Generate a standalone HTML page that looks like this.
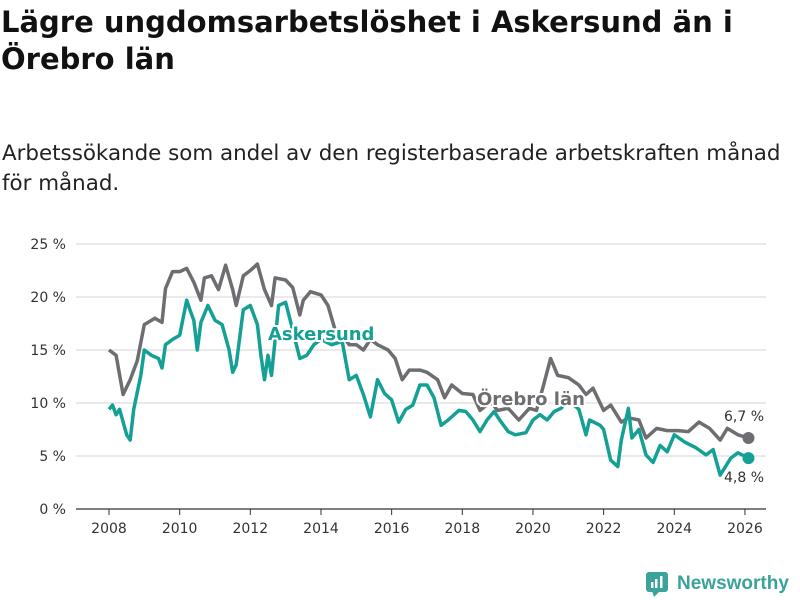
<!DOCTYPE html>
<html><head><meta charset="utf-8"><style>
body{margin:0;width:800px;height:600px;background:#fff;font-family:"DejaVu Sans","Liberation Sans",sans-serif;overflow:hidden;position:relative}
h1{position:absolute;left:1px;top:4px;margin:0;font-size:29px;line-height:37px;font-weight:bold;color:#111;width:800px;white-space:nowrap}
.sub{position:absolute;left:2px;top:139px;font-size:21.4px;line-height:30px;color:#222;width:800px;white-space:nowrap}
svg{position:absolute;left:0;top:0}
</style></head><body>
<h1>Lägre ungdomsarbetslöshet i Askersund än i<br>Örebro län</h1>
<div class="sub">Arbetssökande som andel av den registerbaserade arbetskraften månad<br>för månad.</div>
<svg width="800" height="600">
<g id="grid"></g><g id="lines"></g><g id="labels"></g>
<g>
<rect x="646" y="572" width="22" height="20" rx="3" fill="#3aa39a"/>
<polygon points="652,591 660,591 654,597" fill="#3aa39a"/>
<rect x="651" y="582" width="2.5" height="6" fill="#fff"/><rect x="655" y="579" width="2.5" height="9" fill="#fff"/><rect x="660" y="576" width="2.5" height="12" fill="#fff"/>
<text x="677" y="589" font-size="19" font-family="Liberation Sans, sans-serif" font-weight="bold" fill="#3aa39a">Newsworthy</text>
</g>
</svg>
<script>
const orebroT=[2008.0,2008.2,2008.4,2008.6,2008.8,2009.0,2009.3,2009.5,2009.6,2009.8,2010.0,2010.2,2010.4,2010.6,2010.7,2010.9,2011.1,2011.3,2011.5,2011.6,2011.8,2012.0,2012.2,2012.4,2012.6,2012.7,2013.0,2013.2,2013.4,2013.5,2013.7,2014.0,2014.2,2014.4,2014.6,2014.8,2015.0,2015.2,2015.4,2015.6,2015.9,2016.1,2016.3,2016.5,2016.8,2017.0,2017.3,2017.5,2017.7,2018.0,2018.3,2018.5,2018.8,2019.0,2019.3,2019.6,2019.9,2020.1,2020.3,2020.5,2020.7,2021.0,2021.3,2021.5,2021.7,2022.0,2022.2,2022.5,2022.7,2023.0,2023.2,2023.5,2023.8,2024.1,2024.4,2024.7,2025.0,2025.3,2025.5,2025.8,2026.1];
const orebroV=[15.0,14.5,10.8,12.2,14,17.4,18,17.6,20.8,22.4,22.4,22.7,21.4,19.7,21.8,22,20.7,23,20.7,19.2,22,22.5,23.1,20.7,19.2,21.8,21.6,20.9,18.3,19.7,20.5,20.2,19.2,16.9,16.4,15.5,15.5,15,16,15.5,15,14.2,12.2,13.1,13.1,12.9,12.2,10.5,11.7,10.9,10.8,9.3,10.1,9.3,9.5,8.4,9.5,9.3,11.7,14.2,12.6,12.4,11.7,10.8,11.4,9.3,9.8,8.2,8.6,8.4,6.7,7.6,7.4,7.4,7.3,8.2,7.6,6.5,7.6,7.0,6.7];
const askT=[2008.0,2008.1,2008.2,2008.3,2008.5,2008.6,2008.7,2008.9,2009.0,2009.2,2009.4,2009.5,2009.6,2009.8,2010.0,2010.2,2010.3,2010.4,2010.5,2010.6,2010.8,2011.0,2011.2,2011.4,2011.5,2011.6,2011.8,2012.0,2012.2,2012.3,2012.4,2012.5,2012.6,2012.8,2013.0,2013.2,2013.4,2013.6,2013.8,2014.0,2014.3,2014.6,2014.8,2015.0,2015.2,2015.4,2015.6,2015.8,2016.0,2016.2,2016.4,2016.6,2016.8,2017.0,2017.2,2017.4,2017.6,2017.9,2018.1,2018.3,2018.5,2018.7,2018.9,2019.1,2019.3,2019.5,2019.8,2020.0,2020.2,2020.4,2020.6,2020.8,2021.0,2021.3,2021.5,2021.6,2021.9,2022.0,2022.2,2022.4,2022.5,2022.7,2022.8,2023.0,2023.2,2023.4,2023.6,2023.8,2024.0,2024.3,2024.6,2024.9,2025.1,2025.3,2025.6,2025.8,2026.1];
const askV=[9.4,9.8,8.9,9.4,7.0,6.5,9.4,12.6,15,14.5,14.2,13.3,15.5,16,16.4,19.7,18.7,17.8,15,17.6,19.2,17.8,17.4,15,12.9,13.6,18.8,19.2,17.4,14.5,12.2,14.5,12.6,19.2,19.5,16.9,14.2,14.5,15.5,16,15.5,15.8,12.2,12.6,10.8,8.7,12.2,10.9,10.3,8.2,9.4,9.8,11.7,11.7,10.5,7.9,8.4,9.3,9.2,8.4,7.3,8.4,9.2,8.2,7.3,7.0,7.2,8.4,8.9,8.4,9.2,9.5,10.3,9.4,7.0,8.4,7.9,7.5,4.6,4.0,6.5,9.5,6.7,7.5,5.1,4.4,6.0,5.4,7.0,6.3,5.8,5.1,5.6,3.2,4.8,5.3,4.8];
const yTicks=[0,5,10,15,20,25];
const xTicks=[2008,2010,2012,2014,2016,2018,2020,2022,2024,2026];
const NS="http://www.w3.org/2000/svg";
const X=t=>109+(t-2008)*35.33, Y=v=>509-v*10.6;
function mk(tag,attrs,parent,txt){const e=document.createElementNS(NS,tag);for(const k in attrs)e.setAttribute(k,attrs[k]);if(txt!==undefined)e.textContent=txt;parent.appendChild(e);return e;}
const grid=document.getElementById('grid'),lines=document.getElementById('lines'),labels=document.getElementById('labels');
yTicks.forEach(v=>{
 const l=mk('line',{x1:76,x2:766,y1:Y(v),y2:Y(v),stroke:v===0?'#333':'#ddd','stroke-width':1.2},grid);
 
 
 const t=mk('text',{x:66,y:Y(v)+5,'text-anchor':'end','font-size':14,fill:'#333'},grid,v+' %');
 
 
});
xTicks.forEach(yr=>{
 const l=mk('line',{x1:X(yr),x2:X(yr),y1:509,y2:515,stroke:'#333'},grid);
 
 
 const t=mk('text',{x:X(yr),y:533,'text-anchor':'middle','font-size':14,fill:'#333'},grid,String(yr));
 
 
});
function series(T,V,color,name){
 const d=T.map((t,i)=>(i?'L':'M')+X(t).toFixed(1)+','+Y(V[i]).toFixed(1)).join('');
 const p=mk('path',{d:d,fill:'none',stroke:color,'stroke-width':3.5,'stroke-linejoin':'round'},lines);
 
 
 const n=T.length-1;
 const c=mk('circle',{cx:X(T[n]),cy:Y(V[n]),r:6,fill:color},lines);
 
 
}
series(orebroT,orebroV,'#6e6d72','orebro');
series(askT,askV,'#15a096','askersund');
function lab(x,y,txt,color,name,bold,halo){
 const t=mk('text',{x:x,y:y,'font-size':bold?18:14,'font-weight':bold?'bold':'normal',fill:color,stroke:halo?'#fff':'none','stroke-width':halo?4:0,'paint-order':'stroke'},labels,txt);
 
 
}
lab(268,340,'Askersund','#15a096','askersund-label',true,true);
lab(477,405,'Örebro län','#6e6d72','orebro-label',true,true);
lab(724,421,'6,7 %','#333','orebro-end-value',false,true);
lab(724,482,'4,8 %','#333','askersund-end-value',false,true);
</script>
</body></html>
